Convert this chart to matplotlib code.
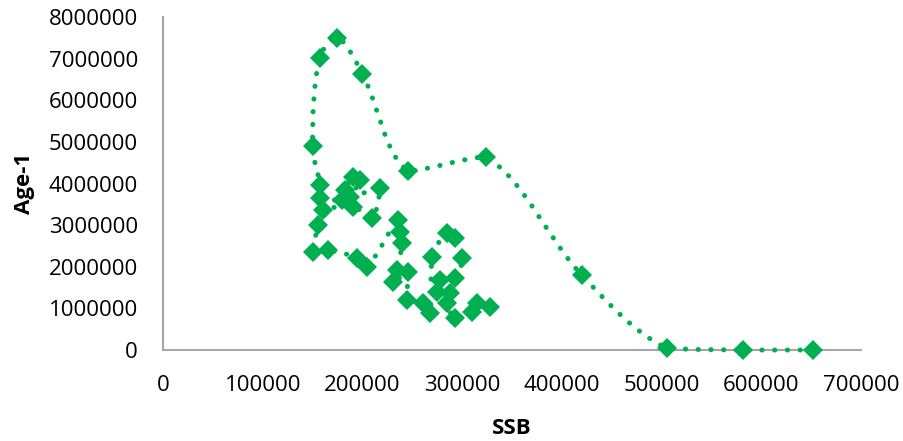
import numpy as np
import matplotlib
matplotlib.use('Agg')
import matplotlib.pyplot as plt
from matplotlib.path import Path
from matplotlib.patches import PathPatch

# SSB (tonnes) and Age-1 recruits, in series order
ssb = [652000, 582000, 505000, 420000, 324000, 246000, 200000, 175000, 157000, 150000,
       157500, 157500, 179500, 182500, 190600, 197600, 187600, 217600, 209600, 190600, 160500,
       155500, 150500, 165500, 194600, 204600, 235700, 237700, 239700, 234700, 230700,
       245700, 244700, 260800, 267800, 269800, 284900, 292900, 299900, 292900, 277800,
       274800, 287900, 284900, 292900, 310000, 315000, 328000]
age1 = [0, 0, 50000, 1800000, 4640000, 4300000, 6630000, 7500000, 7020000, 4900000,
        3970000, 3650000, 3600000, 3850000, 4160000, 4090000, 3680000, 3890000, 3170000, 3440000, 3370000,
        3000000, 2360000, 2400000, 2210000, 2000000, 3130000, 2840000, 2570000, 1920000, 1630000,
        1880000, 1200000, 1130000, 890000, 2240000, 2810000, 2690000, 2210000, 1730000, 1680000,
        1390000, 1370000, 1130000, 770000, 910000, 1130000, 1030000]

green = '#00B050'

fig = plt.figure(figsize=(9.04, 4.41), dpi=100)
ax = fig.add_axes([0.1803, 0.2063, 0.9524 - 0.1803, 0.9615 - 0.2063])

# smoothed connecting line, Excel-like: Bezier handles built in screen-like
# units, weighted by segment length and kept inside each segment's box
sx, sy = 700000.0 / 698.0, 8000000.0 / 333.0
P = np.column_stack([np.array(ssb, float) / sx, np.array(age1, float) / sy])
n = len(P)
d = np.hypot(*np.diff(P, axis=0).T)
verts = [tuple(P[0])]
codes = [Path.MOVETO]
for i in range(n - 1):
    i0 = max(i - 1, 0)
    i3 = min(i + 2, n - 1)
    dp = d[i - 1] if i > 0 else d[i]
    dn = d[i + 1] if i + 1 < n - 1 else d[i]
    c1 = P[i] + (P[i + 1] - P[i0]) * d[i] / (dp + d[i]) / 3
    c2 = P[i + 1] - (P[i3] - P[i]) * d[i] / (d[i] + dn) / 3
    lo = np.minimum(P[i], P[i + 1])
    hi = np.maximum(P[i], P[i + 1])
    c1 = np.clip(c1, lo, hi)
    c2 = np.clip(c2, lo, hi)
    verts += [tuple(c1), tuple(c2), tuple(P[i + 1])]
    codes += [Path.CURVE4] * 3
verts = [(vx * sx, vy * sy) for vx, vy in verts]
patch = PathPatch(Path(verts, codes), facecolor='none', edgecolor=green, lw=3.6,
                  linestyle=(0, (0.05, 2.5)), capstyle='round', clip_on=False)
ax.add_patch(patch)

ax.plot(ssb, age1, linestyle='none', marker='D', markersize=10.5,
        color=green, markeredgewidth=0, zorder=3, clip_on=False)

ax.set_xlim(0, 700000)
ax.set_ylim(0, 8000000)
ax.set_xticks(np.arange(0, 700001, 100000))
ax.set_yticks(np.arange(0, 8000001, 1000000))
ax.set_xticklabels([str(v) for v in range(0, 700001, 100000)])
ax.set_yticklabels([str(v) for v in range(0, 8000001, 1000000)])

for s in ['top', 'right']:
    ax.spines[s].set_visible(False)
for s in ['left', 'bottom']:
    ax.spines[s].set_color('#a6a6a6')
    ax.spines[s].set_linewidth(1.5)
    ax.spines[s].set_zorder(0.5)

ax.tick_params(length=0, labelsize=16, pad=18, labelcolor='black')
for lab in ax.get_xticklabels() + ax.get_yticklabels():
    lab.set_family('Open Sans')

ax.set_xlabel('SSB', fontsize=16, fontweight='bold', family='Open Sans', labelpad=16)
ax.set_ylabel('Age-1', fontsize=16, fontweight='bold', family='Open Sans', labelpad=10)

fig.savefig('out.png', dpi=100)
